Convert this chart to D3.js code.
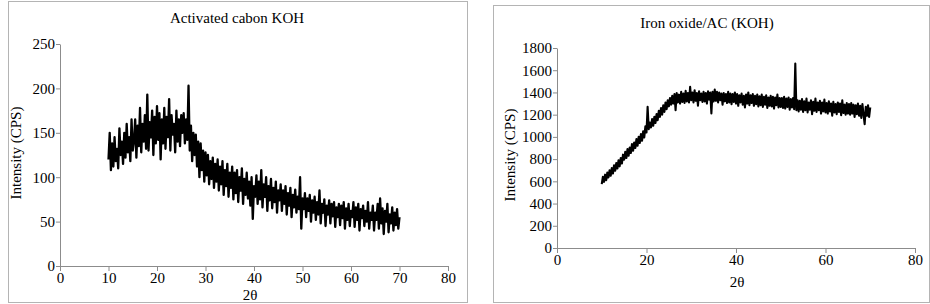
<!DOCTYPE html>
<html>
<head>
<meta charset="utf-8">
<script src="https://cdn.jsdelivr.net/npm/d3@7"></script>
<style>
  body { margin: 0; background: #fff; }
</style>
</head>
<body>
<svg id="chart" width="930" height="304"></svg>
<script>
// 2-theta sampling, 10 to 70 in 0.25 steps
var twoTheta = d3.range(0, 241).map(function(i) { return 10 + i * 0.25; });

var acKOH = [
  120, 150, 108, 138, 112, 145, 118, 132, 110, 155, 125, 140, 115, 150, 122, 160, 128, 145, 118, 165, 130,
  140, 165, 122, 158, 135, 178, 128, 160, 140, 170, 132, 193, 130, 162, 145, 175, 125, 168, 138, 180,
  142, 172, 120, 165, 138, 178, 132, 168, 145, 188, 130, 170, 148, 160, 128, 175, 140, 165, 135, 170,
  150, 172, 138, 165, 142, 203, 130, 158, 118, 150, 125, 148, 112, 140, 100, 138, 108, 130, 95, 128,
  102, 125, 92, 118, 98, 122, 88, 115, 95, 120, 85, 112, 92, 118, 80, 108, 90, 115, 78, 105,
  88, 112, 75, 105, 82, 108, 72, 100, 85, 110, 70, 98, 80, 105, 76, 95, 68, 100, 53, 90,
  78, 102, 70, 95, 75, 108, 66, 92, 78, 100, 62, 90, 74, 98, 65, 88, 72, 95, 60, 85,
  74, 92, 62, 85, 70, 90, 58, 82, 68, 88, 55, 80, 66, 86, 60, 78, 64, 100, 42, 76,
  64, 82, 55, 76, 62, 80, 50, 74, 60, 78, 52, 72, 58, 85, 48, 70, 60, 75, 45, 68,
  58, 74, 48, 70, 56, 72, 44, 66, 55, 70, 46, 68, 54, 72, 42, 65, 52, 70, 45, 62,
  55, 72, 44, 66, 52, 70, 40, 64, 54, 68, 45, 62, 50, 72, 42, 60, 52, 68, 40, 60,
  52, 70, 42, 76, 48, 65, 36, 62, 50, 70, 38, 58, 48, 66, 40, 60, 46, 64, 42, 55
];

var feKOH = [
  575, 640, 595, 660, 610, 680, 635, 700, 650, 720, 670, 745, 695, 765, 715, 790, 735, 810, 760, 840, 795,
  865, 810, 890, 830, 905, 855, 935, 875, 950, 900, 980, 920, 1000, 945, 1025, 965, 1050, 995, 1095, 1040,
  1270, 1070, 1130, 1085, 1160, 1100, 1180, 1125, 1205, 1150, 1235, 1180, 1260, 1200, 1285, 1225, 1310, 1250, 1330, 1275,
  1350, 1290, 1370, 1300, 1385, 1240, 1395, 1310, 1380, 1300, 1405, 1315, 1390, 1305, 1415, 1320, 1395, 1310, 1450, 1330,
  1400, 1310, 1420, 1325, 1395, 1280, 1410, 1330, 1390, 1315, 1405, 1320, 1395, 1300, 1410, 1335, 1400, 1210, 1405, 1320,
  1425, 1325, 1405, 1310, 1400, 1330, 1390, 1290, 1395, 1320, 1385, 1305, 1405, 1310, 1390, 1295, 1385, 1315, 1400, 1300,
  1385, 1280, 1375, 1310, 1390, 1290, 1370, 1265, 1380, 1300, 1400, 1285, 1375, 1305, 1385, 1280, 1370, 1295, 1380, 1275,
  1365, 1285, 1380, 1270, 1360, 1290, 1375, 1260, 1355, 1280, 1370, 1275, 1360, 1255, 1355, 1285, 1380, 1265, 1350, 1270,
  1350, 1260, 1360, 1255, 1345, 1270, 1355, 1245, 1340, 1265, 1350, 1250, 1660, 1240, 1330, 1230, 1325, 1245, 1340, 1225,
  1320, 1240, 1345, 1220, 1310, 1245, 1330, 1205, 1315, 1235, 1345, 1225, 1310, 1240, 1325, 1210, 1310, 1230, 1335, 1220,
  1305, 1210, 1320, 1230, 1300, 1190, 1315, 1220, 1295, 1205, 1310, 1225, 1300, 1195, 1330, 1215, 1290, 1200, 1305, 1210,
  1295, 1200, 1305, 1210, 1290, 1180, 1285, 1205, 1300, 1190, 1280, 1170, 1295, 1200, 1115, 1270, 1190, 1285, 1180, 1265
];

var xTicksLeft = [0, 10, 20, 30, 40, 50, 60, 70, 80];
var yTicksLeft = [0, 50, 100, 150, 200, 250];
var xTicksRight = [0, 20, 40, 60, 80];
var yTicksRight = [0, 200, 400, 600, 800, 1000, 1200, 1400, 1600, 1800];

var serif = '"Liberation Serif", "Times New Roman", serif';
var svg = d3.select('#chart');

function styleAxis(g) {
  g.attr('font-family', serif).attr('font-size', 15);
  g.selectAll('path, line').attr('stroke', '#8c8c8c');
  g.selectAll('text').attr('fill', '#000');
}

function panel(opt) {
  svg.append('rect')
    .attr('x', opt.box[0] + 0.5).attr('y', opt.box[1] + 0.5)
    .attr('width', opt.box[2]).attr('height', opt.box[3])
    .attr('fill', 'none').attr('stroke', '#b4b4b4');

  var x = d3.scaleLinear().domain([0, 80]).range(opt.xRange);
  var y = d3.scaleLinear().domain(opt.yDomain).range(opt.yRange);

  svg.append('g')
    .attr('transform', 'translate(0,' + opt.yRange[0] + ')')
    .call(d3.axisBottom(x).tickValues(opt.xTicks).tickFormat(d3.format('d'))
      .tickSize(5).tickSizeOuter(0).tickPadding(1))
    .call(styleAxis);
  svg.append('g')
    .attr('transform', 'translate(' + opt.xRange[0] + ',0)')
    .call(d3.axisLeft(y).tickValues(opt.yTicks).tickFormat(d3.format('d'))
      .tickSize(4).tickSizeOuter(0).tickPadding(1))
    .call(styleAxis);

  var line = d3.line()
    .x(function(d, i) { return x(twoTheta[i]); })
    .y(function(d) { return y(d); });
  svg.append('path').datum(opt.values)
    .attr('d', line)
    .attr('fill', 'none')
    .attr('stroke', '#000')
    .attr('stroke-width', opt.weight)
    .attr('stroke-linejoin', 'round');

  function label(t) {
    return t.attr('text-anchor', 'middle').attr('dominant-baseline', 'middle')
      .attr('font-family', serif).attr('font-size', 15).attr('fill', '#000');
  }
  svg.append('text').attr('x', opt.title[1]).attr('y', opt.title[2])
    .call(label).text(opt.title[0]);
  svg.append('text')
    .attr('transform', 'translate(' + opt.yLab[0] + ',' + opt.yLab[1] + ') rotate(-90)')
    .call(label).text('Intensity (CPS)');
  svg.append('text').attr('x', opt.xLab[0]).attr('y', opt.xLab[1])
    .call(label).text('2θ');
}

panel({
  box: [8, 1, 459, 301],
  xRange: [60, 448], yRange: [266, 44], yDomain: [0, 250],
  xTicks: xTicksLeft, yTicks: yTicksLeft, values: acKOH, weight: 2.3,
  title: ['Activated cabon KOH', 237, 20], yLab: [18, 153], xLab: [250, 297]
});

panel({
  box: [493, 5, 436, 297],
  xRange: [557, 915], yRange: [248, 48], yDomain: [0, 1800],
  xTicks: xTicksRight, yTicks: yTicksRight, values: feKOH, weight: 2.1,
  title: ['Iron oxide/AC (KOH)', 707, 25], yLab: [512, 155], xLab: [737, 284]
});
</script>
</body>
</html>
